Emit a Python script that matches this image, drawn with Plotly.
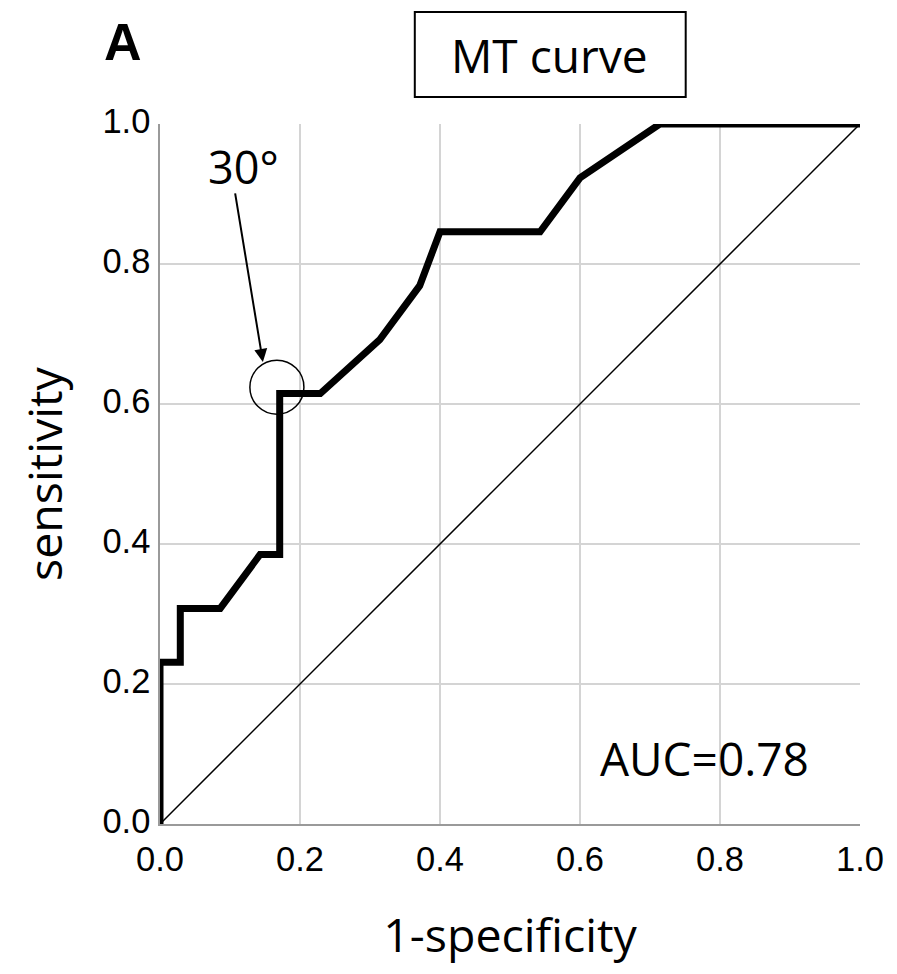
import plotly.graph_objects as go

# ROC curve vertices (1-specificity, sensitivity)
fpr = [0.0, 0.0, 0.029, 0.029, 0.086, 0.143, 0.171, 0.171, 0.229, 0.314, 0.371, 0.400, 0.543, 0.600, 0.714, 1.0]
tpr = [0.0, 0.231, 0.231, 0.308, 0.308, 0.385, 0.385, 0.615, 0.615, 0.692, 0.769, 0.846, 0.846, 0.923, 1.0, 1.0]
ref_x = [0.0, 1.0]
ref_y = [0.0, 1.0]
tick_vals = [0.0, 0.2, 0.4, 0.6, 0.8, 1.0]
tick_text = ["0.0", "0.2", "0.4", "0.6", "0.8", "1.0"]
title_text = "MT curve"
auc_text = "AUC=0.78"
marker_label = "30°"
panel_label = "A"
cut_x, cut_y = 0.167, 0.624

TXT = "Open Sans"
NUM = "Liberation Sans"

fig = go.Figure()
fig.add_trace(go.Scatter(x=ref_x, y=ref_y, mode="lines",
                         line=dict(color="black", width=1.5), hoverinfo="skip"))
fig.add_trace(go.Scatter(x=fpr, y=tpr, mode="lines",
                         line=dict(color="black", width=7), hoverinfo="skip"))

r = 0.0386
fig.add_shape(type="circle", xref="x", yref="y",
              x0=cut_x - r, x1=cut_x + r, y0=cut_y - r, y1=cut_y + r,
              line=dict(color="black", width=1.5))

fig.add_annotation(x=0.147, y=0.66, ax=0.107, ay=0.903, xref="x", yref="y",
                   axref="x", ayref="y", text="", showarrow=True,
                   arrowhead=2, arrowsize=1.3, arrowwidth=2, arrowcolor="black")
fig.add_annotation(x=0.119, y=0.94, xref="x", yref="y", text=marker_label,
                   xanchor="center", yanchor="middle",
                   showarrow=False, font=dict(family=TXT, size=45, color="black"))
fig.add_annotation(x=0.778, y=0.094, xref="x", yref="y", text=auc_text,
                   xanchor="center", yanchor="middle",
                   showarrow=False, font=dict(family=TXT, size=46, color="black"))

# title box
fig.add_shape(type="rect", xref="paper", yref="paper",
              x0=0.364, x1=0.751, y0=1.0386, y1=1.16,
              line=dict(color="black", width=2), fillcolor="white")
fig.add_annotation(x=0.557, y=1.099, xref="paper", yref="paper", text=title_text,
                   xanchor="center", yanchor="middle",
                   showarrow=False, font=dict(family=TXT, size=46, color="black"))
fig.add_annotation(x=-0.053, y=1.117, xref="paper", yref="paper",
                   xanchor="center", yanchor="middle",
                   text="<b>" + panel_label + "</b>", showarrow=False,
                   font=dict(family=NUM, size=52, color="black"))

axis_common = dict(range=[0, 1], tickvals=tick_vals, ticktext=tick_text,
                   showgrid=True, gridcolor="#d4d4d4", gridwidth=1.5,
                   zeroline=False, showline=True, linecolor="#9a9a9a", linewidth=1.5,
                   automargin=False,
                   ticks="", tickfont=dict(family=NUM, size=34.5, color="black"))

fig.update_layout(
    width=881, height=958,
    margin=dict(l=152, r=29, t=116, b=142, autoexpand=False),
    paper_bgcolor="white", plot_bgcolor="white",
    showlegend=False,
    xaxis=dict(**axis_common, ticklabelstandoff=4,
               title=dict(text="1-specificity", standoff=51,
                          font=dict(family=TXT, size=46.5, color="black"))),
    yaxis=dict(**axis_common, ticklabelstandoff=1, ticklabelshift=-3,
               title=dict(text="sensitivity", standoff=25,
                          font=dict(family=TXT, size=46.5, color="black"))),
)

fig.write_html("out.html")
